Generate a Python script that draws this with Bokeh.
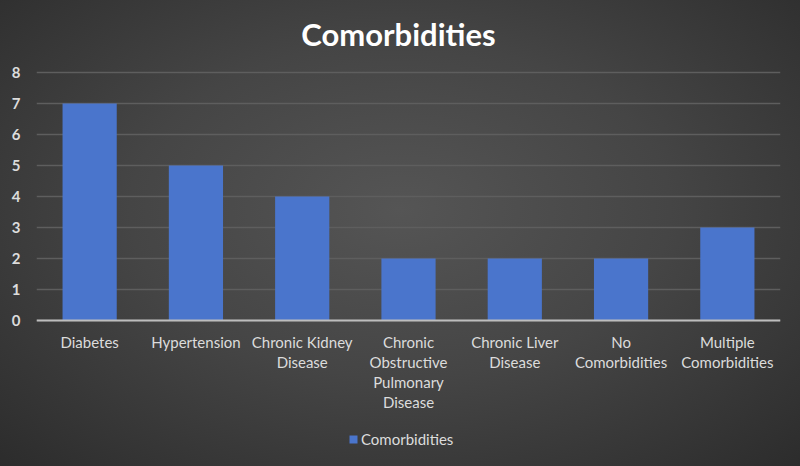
from bokeh.plotting import figure
from bokeh.models import ColumnDataSource, Legend, LegendItem, LabelSet, Span
from bokeh.core.properties import value
from bokeh.embed import file_html
from bokeh.resources import INLINE

categories = ["Diabetes", "Hypertension", "Chronic Kidney Disease",
              "Chronic Obstructive Pulmonary Disease", "Chronic Liver Disease",
              "No Comorbidities", "Multiple Comorbidities"]
tick_labels = ["Diabetes", "Hypertension", "Chronic Kidney\nDisease",
               "Chronic\nObstructive\nPulmonary\nDisease", "Chronic Liver\nDisease",
               "No\nComorbidities", "Multiple\nComorbidities"]
counts = [7, 5, 4, 2, 2, 2, 3]
y_ticks = [0, 1, 2, 3, 4, 5, 6, 7, 8]
title_text = "Comorbidities"

FONT = "Lato"
TXT = "#dcdcdc"
LINE_GAP = 20
FIRST_OFF = 21
W, H = 800, 466
ROW_TOP, ROW_ZERO = 72, 320          # screen rows of value 8 and value 0
PX_PER_UNIT = (ROW_ZERO - ROW_TOP) / 8
# the frame spans the whole height so title, category labels and legend are not clipped
Y_LOW = -(H - ROW_ZERO) / PX_PER_UNIT
Y_HIGH = 8 + ROW_TOP / PX_PER_UNIT

src = ColumnDataSource(dict(cat=categories, val=counts))

# one row per label line, hung under its category
lx, ly, lt, loff = [], [], [], []
for c, t in zip(categories, tick_labels):
    for i, line in enumerate(t.split("\n")):
        lx.append(c)
        ly.append(0)
        lt.append(line)
        loff.append(-(FIRST_OFF + LINE_GAP * i))
lab_src = ColumnDataSource(dict(x=lx, y=ly, text=lt, off=loff))
title_src = ColumnDataSource(dict(x=[categories[len(categories) // 2]], y=[y_ticks[-1]],
                                  text=[title_text]))

p = figure(x_range=categories, y_range=(Y_LOW, Y_HIGH), width=W, height=H,
           output_backend="svg", toolbar_location=None, x_axis_location=None,
           min_border_left=36, min_border_right=20, min_border_top=0,
           min_border_bottom=0)
p.styles = {"background": "radial-gradient(ellipse 75% 80% at 50% 45%, #555555 0%, #454545 45%, #2a2a2a 100%)"}
p.border_fill_color = None
p.background_fill_color = None
p.outline_line_color = None

r = p.vbar(x="cat", top="val", width=0.51, source=src,
           fill_color="#4a75cc", line_color=None)

p.xgrid.grid_line_color = None
p.ygrid.grid_line_color = "#5e5e5e"
p.ygrid.grid_line_width = 1.5
p.yaxis.ticker = y_ticks
p.yaxis.axis_line_color = None
p.yaxis.major_tick_line_color = None
p.yaxis.minor_tick_line_color = None
p.yaxis.major_tick_out = 0
p.yaxis.major_tick_in = 0
p.yaxis.major_label_standoff = 16
p.yaxis.major_label_text_font = FONT
p.yaxis.major_label_text_font_size = "15px"
p.yaxis.major_label_text_font_style = "bold"
p.yaxis.major_label_text_color = TXT

p.add_layout(Span(location=0, dimension="width", line_color="#bdbdbd", line_width=2))

# chart title, centred over the middle of the chart
p.add_layout(LabelSet(x="x", y="y", text="text", source=title_src,
                      y_offset=39, x_offset=-10,
                      text_align="center", text_baseline="middle",
                      text_font=value(FONT), text_font_size=value("31px"),
                      text_font_style="bold", text_color="#ffffff"))

labels = LabelSet(x="x", y="y", text="text", y_offset="off", source=lab_src,
                  text_align="center", text_baseline="middle",
                  text_font=value(FONT), text_font_size=value("15px"),
                  text_color=TXT)
p.add_layout(labels)

legend = Legend(items=[LegendItem(label="Comorbidities", renderers=[r])],
                orientation="horizontal", location=(312, 18),
                background_fill_alpha=0, border_line_color=None,
                label_text_font=FONT, label_text_font_size="15px",
                label_text_color=TXT, glyph_width=10, glyph_height=10,
                label_standoff=3, margin=0, padding=2)
p.add_layout(legend, "center")

open("out.html", "w").write(file_html(p, INLINE))
